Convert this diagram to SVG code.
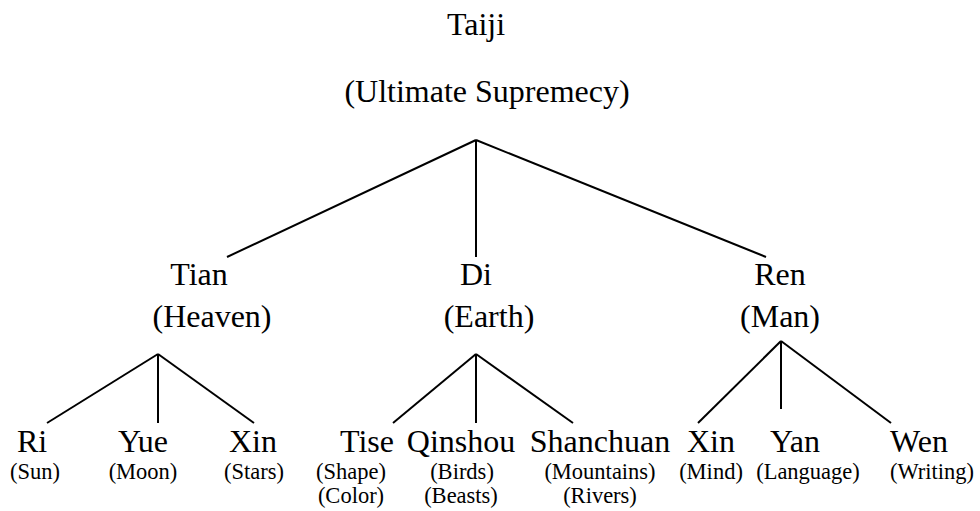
<svg xmlns="http://www.w3.org/2000/svg" width="980" height="511" viewBox="0 0 980 511">
<style>
text{fill:#000;text-anchor:middle}
.m{font-size:32px}
.s{font-size:22.5px}
.c line{stroke:#000;stroke-width:2;stroke-linecap:butt}
</style>
<rect width="980" height="511" fill="#fff"/>
<g class="c" id="connectors">
<line x1="476" y1="140" x2="227" y2="257"/>
<line x1="476" y1="140" x2="476" y2="257"/>
<line x1="476" y1="140" x2="766" y2="257"/>
<line x1="158" y1="354" x2="47" y2="423"/>
<line x1="158" y1="354" x2="158" y2="423"/>
<line x1="158" y1="354" x2="254" y2="423"/>
<line x1="476" y1="354" x2="393" y2="423"/>
<line x1="476" y1="354" x2="476" y2="423"/>
<line x1="476" y1="354" x2="573" y2="423"/>
<line x1="781" y1="341" x2="698" y2="423"/>
<line x1="781" y1="341" x2="781" y2="409"/>
<line x1="781" y1="341" x2="891" y2="423"/>
</g>
<g font-family="'Liberation Serif', Tinos, 'Times New Roman', 'DejaVu Serif', serif">
<g id="taiji"><text class="m" x="476" y="35">Taiji</text><text class="m" x="487" y="102">(Ultimate Supremecy)</text></g>
<g id="tian"><text class="m" x="199" y="285">Tian</text><text class="m" x="212" y="327">(Heaven)</text></g>
<g id="di"><text class="m" x="476" y="285">Di</text><text class="m" x="489" y="327">(Earth)</text></g>
<g id="ren"><text class="m" x="780" y="285">Ren</text><text class="m" x="780" y="327">(Man)</text></g>
<g id="ri"><text class="m" x="32" y="452">Ri</text><text class="s" x="35" y="479">(Sun)</text></g>
<g id="yue"><text class="m" x="143" y="452">Yue</text><text class="s" x="143" y="479">(Moon)</text></g>
<g id="xin1"><text class="m" x="253" y="452">Xin</text><text class="s" x="254" y="479">(Stars)</text></g>
<g id="tise"><text class="m" x="367" y="452">Tise</text><text class="s" x="351" y="479">(Shape)</text><text class="s" x="351" y="503">(Color)</text></g>
<g id="qinshou"><text class="m" x="461" y="452">Qinshou</text><text class="s" x="462" y="479">(Birds)</text><text class="s" x="461" y="503">(Beasts)</text></g>
<g id="shanchuan"><text class="m" x="600" y="452">Shanchuan</text><text class="s" x="600" y="479">(Mountains)</text><text class="s" x="600" y="503">(Rivers)</text></g>
<g id="xin2"><text class="m" x="711" y="452">Xin</text><text class="s" x="711" y="479">(Mind)</text></g>
<g id="yan"><text class="m" x="795" y="452">Yan</text><text class="s" x="808" y="479">(Language)</text></g>
<g id="wen"><text class="m" x="919" y="452">Wen</text><text class="s" x="932" y="479">(Writing)</text></g>
</g>
</svg>
